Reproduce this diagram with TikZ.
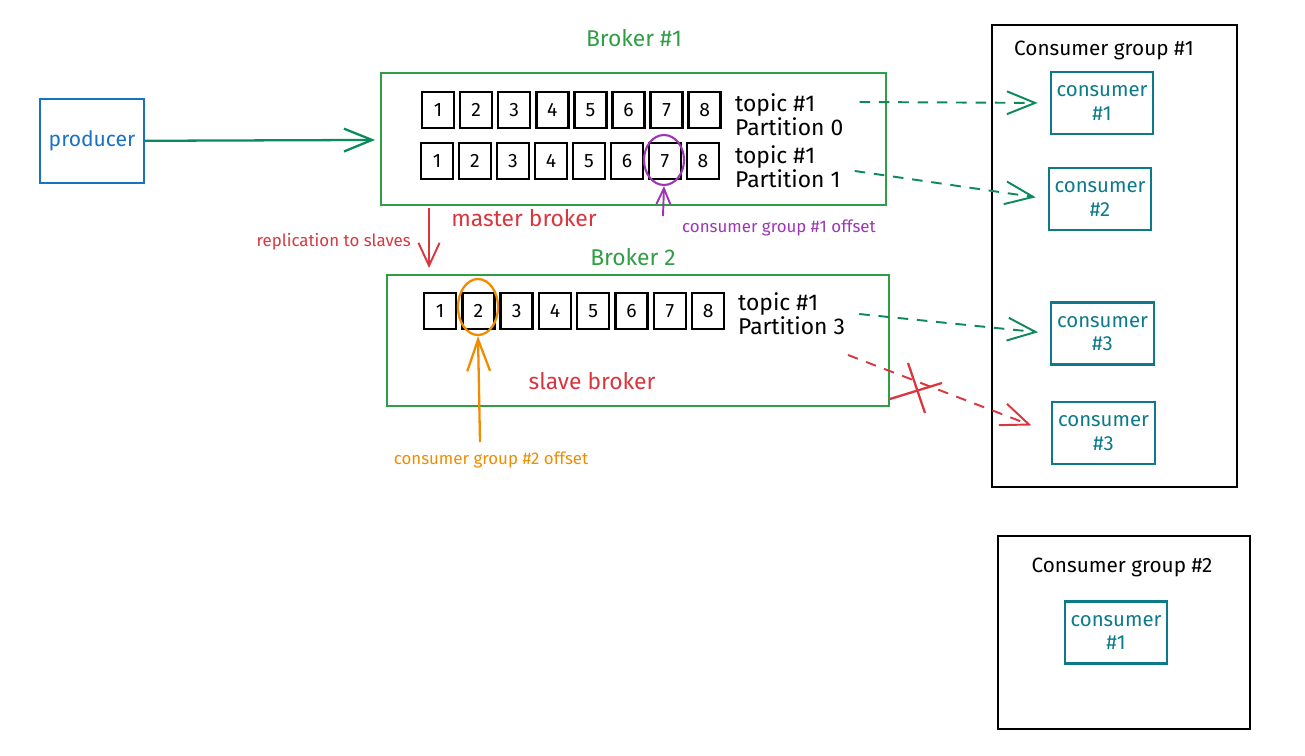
\documentclass[tikz,border=0pt]{standalone}
\usepackage{fontspec}
\setmainfont{Fira Sans}
\usetikzlibrary{arrows.meta,calc,shapes.geometric}

\definecolor{prodblue}{HTML}{1971C2}
\definecolor{brokergreen}{HTML}{2F9E44}
\definecolor{flowgreen}{HTML}{0C8A5C}
\definecolor{masterred}{HTML}{D9363E}
\definecolor{offpurple}{HTML}{9C36B5}
\definecolor{offorange}{HTML}{F08C00}
\definecolor{consteal}{HTML}{0C7A8A}

\tikzset{
    cell/.style={draw=black, line width=1.4pt, minimum width=0.64cm, minimum height=0.72cm,
        inner sep=0pt, font=\fontsize{11}{13}\selectfont},
    brokerbox/.style={draw=brokergreen, line width=1.1pt},
    consbox/.style={draw=consteal, line width=1.2pt, text=consteal, align=center,
        minimum width=2cm, minimum height=1.24cm, font=\fontsize{11.6}{13.5}\selectfont},
    groupbox/.style={draw=black, line width=1.3pt},
    partlabel/.style={anchor=west, align=left, font=\fontsize{13}{13.5}\selectfont},
    title/.style={font=\fontsize{13}{15}\selectfont},
    small/.style={font=\fontsize{9.6}{11}\selectfont},
    barb/.style={-{Straight Barb[length=16pt,width=13pt]}},
    flow/.style={barb, line width=1.1pt, dash pattern=on 6pt off 5pt},
}

\begin{document}
\begin{tikzpicture}[x=0.02cm, y=-0.02cm]
    \useasboundingbox (0,0) rectangle (1305,756);

    % producer
    \node[draw=prodblue, line width=1.2pt, text=prodblue, minimum width=2.08cm, minimum height=1.68cm,
        font=\fontsize{12}{14}\selectfont] (prod) at (92,141) {producer};

    % master broker
    \node[title, text=brokergreen] (b1title) at (634,38) {Broker \#1};
    \node[brokerbox, minimum width=10.1cm, minimum height=2.64cm] (broker1) at (633.5,139) {};
    \foreach \i in {1,...,8} {
        \node[cell] (pa\i) at ({438+38.1*(\i-1)},110) {\i};
        \node[cell] (pb\i) at ({437+38*(\i-1)},161) {\i};
    }
    \node[partlabel] (p0) at (729,115) {topic \#1\\Partition 0};
    \node[partlabel] (p1) at (729,167) {topic \#1\\Partition 1};
    \node[title, text=masterred] (mlabel) at (524,218) {master broker};

    % offset of group 1
    \node[draw=offpurple, line width=1.2pt, ellipse, minimum width=0.8cm, minimum height=1cm] (ring1) at (664,160) {};
    \node[small, text=offpurple, anchor=west] (off1) at (676,228) {consumer group \#1 offset};
    \coordinate (off1tail) at (663,216);
    \draw[-{Straight Barb[length=9pt,width=8pt]}, offpurple, line width=1.1pt] (off1tail) -- (ring1.south);

    % replication
    \coordinate (repA) at (429,208);
    \coordinate (repB) at (429,268);
    \draw[-{Straight Barb[length=13pt,width=12pt]}, masterred, line width=1.1pt] (repA) -- (repB);
    \node[small, text=masterred, anchor=east] (replabel) at (417,242) {replication to slaves};

    % slave broker
    \node[title, text=brokergreen] (b2title) at (633,257) {Broker 2};
    \node[brokerbox, minimum width=10.04cm, minimum height=2.62cm] (broker2) at (638,340.5) {};
    \foreach \i in {1,...,8} {
        \node[cell] (pc\i) at ({440+38.3*(\i-1)},311) {\i};
    }
    \node[partlabel] (p3) at (732,314) {topic \#1\\Partition 3};
    \node[title, text=masterred] (slabel) at (592,381) {slave broker};

    % offset of group 2
    \node[draw=offorange, line width=1.3pt, ellipse, minimum width=0.8cm, minimum height=1.12cm] (ring2) at (478,307) {};
    \node[small, text=offorange] (off2) at (491,460) {consumer group \#2 offset};
    \coordinate (off2tail) at (480,442);
    \draw[-{Straight Barb[length=18pt,width=13pt]}, offorange, line width=1.3pt] (off2tail) -- (ring2.south);

    % consumer groups
    \node[groupbox, minimum width=4.9cm, minimum height=9.24cm] (group1) at (1114.5,256) {};
    \node[title, font=\fontsize{11.8}{14}\selectfont] (g1title) at (1104,50) {Consumer group \#1};
    \node[consbox] (c1) at (1102,103) {consumer\\\#1};
    \node[consbox] (c2) at (1100,199) {consumer\\\#2};
    \node[consbox] (c3) at (1102.5,333.5) {consumer\\\#3};
    \node[consbox] (c4) at (1103.5,433) {consumer\\\#3};

    \node[groupbox, minimum width=5.04cm, minimum height=3.86cm] (group2) at (1124,632.5) {};
    \node[title, font=\fontsize{11.8}{14}\selectfont] (g2title) at (1122,567) {Consumer group \#2};
    \node[consbox] (c5) at (1116,632.5) {consumer\\\#1};

    % producer writes to master
    \draw[barb, flowgreen, line width=1.3pt, shorten >=0.1cm] (prod) -- (broker1);

    % partitions to consumers
    \draw[flow, flowgreen, shorten >=0.24cm] ($(p0.east)+(10,-13)$) -- (c1.west);
    \draw[flow, flowgreen, shorten >=0.24cm] ($(p1.east)+(8,4)$) -- (c2.west);
    \draw[flow, flowgreen, shorten >=0.24cm] ($(p3.east)+(8,0)$) -- (c3.west);
    \coordinate (lost) at (848,355);
    \draw[flow, masterred, shorten >=0.42cm] (lost) -- (c4.west);
    \draw[masterred, line width=1.3pt] (908,363) -- (925,413);
    \draw[masterred, line width=1.3pt] (890,399) -- (942,383);
\end{tikzpicture}
\end{document}
